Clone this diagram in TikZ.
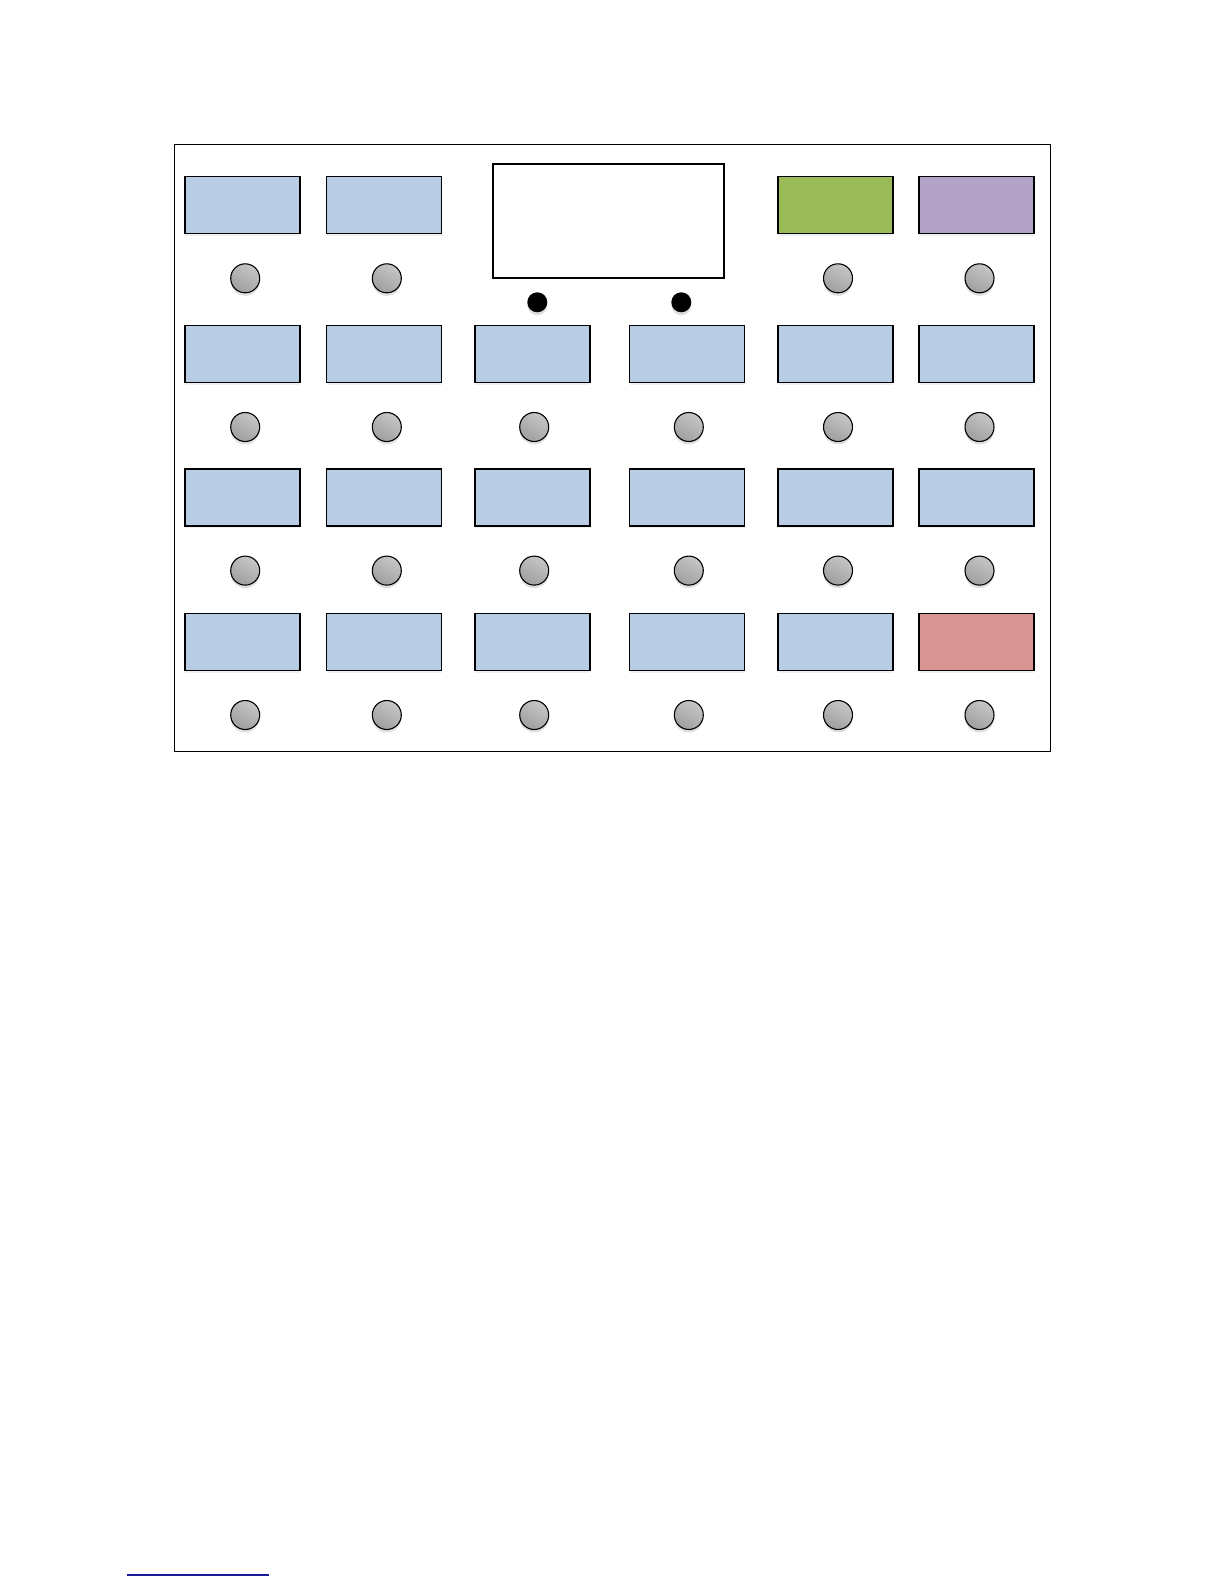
\documentclass[tikz,border=0pt]{standalone}
\usetikzlibrary{shadows}
\definecolor{keyblue}{HTML}{B8CCE4}
\definecolor{keygreen}{HTML}{9BBB59}
\definecolor{keypurple}{HTML}{B2A2C7}
\definecolor{keyred}{HTML}{D99594}
\definecolor{rulecol}{HTML}{1A1A9A}
\begin{document}
\begin{tikzpicture}[x=1pt,y=-1pt,
  keybox/.style={rectangle,draw=black,line width=1.6pt,minimum width=115pt,minimum height=57pt,inner sep=0pt,
    drop shadow={shadow xshift=0pt,shadow yshift=-2pt,opacity=0.12}},
  knob/.style={circle,draw=black,line width=1.1pt,minimum size=29pt,inner sep=0pt,
    top color=gray!45,bottom color=gray!75,shading angle=-30,
    drop shadow={shadow xshift=0pt,shadow yshift=-3pt,opacity=0.25}},
  dot/.style={circle,fill=black,minimum size=20pt,inner sep=0pt,
    drop shadow={shadow xshift=0pt,shadow yshift=-3pt,opacity=0.25}},
  screen/.style={rectangle,draw=black,line width=1.8pt,minimum width=231pt,minimum height=114pt,inner sep=0pt,fill=white}
]
\useasboundingbox (0,0) rectangle (1224,1584);
\node[rectangle,draw=black,line width=0.8pt,minimum width=876pt,minimum height=607pt,inner sep=0pt] (frame) at (612.4,447.7) {};
% top row
\node[keybox,fill=keyblue] (b11) at (242.5,205) {};
\node[keybox,fill=keyblue] (b12) at (384,205) {};
\node[screen] (scr) at (608.8,221.3) {};
\node[keybox,fill=keygreen] (b15) at (835.5,205) {};
\node[keybox,fill=keypurple] (b16) at (976.5,205) {};
\node[knob] (k11) at (245.2,278.3) {};
\node[knob] (k12) at (386.8,278.3) {};
\node[knob] (k15) at (838,278.3) {};
\node[knob] (k16) at (979.5,278.3) {};
\node[dot] (d1) at (537.3,302.3) {};
\node[dot] (d2) at (681.3,302.3) {};
% rows 2-4
\foreach \r/\by/\ky in {2/354/427,3/497.5/570.6,4/642/715}{
  \foreach \c/\bx/\kx in {1/242.5/245.2,2/384/386.8,3/532.2/534.2,4/687/688.8,5/835.5/838,6/976.5/979.5}{
    \ifnum\r=4 \ifnum\c=6
      \node[keybox,fill=keyred] (b\r\c) at (\bx,\by) {};
    \else
      \node[keybox,fill=keyblue] (b\r\c) at (\bx,\by) {};
    \fi\else
      \node[keybox,fill=keyblue] (b\r\c) at (\bx,\by) {};
    \fi
    \node[knob] (k\r\c) at (\kx,\ky) {};
  }
}
% footnote rule
\coordinate (ra) at (126.7,1575);
\coordinate (rb) at (269,1575);
\draw[rulecol,line width=1.3pt] (ra) -- (rb);
\end{tikzpicture}
\end{document}
